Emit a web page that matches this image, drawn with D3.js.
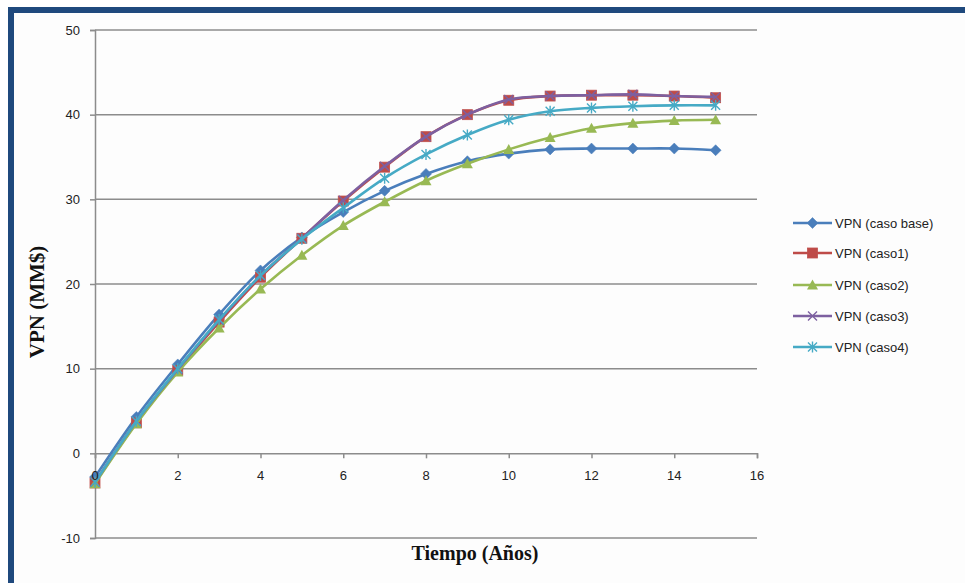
<!DOCTYPE html>
<html>
<head>
<meta charset="utf-8">
<script src="https://cdn.jsdelivr.net/npm/d3@7"></script>
<style>
  html, body { margin: 0; padding: 0; background: #fff; }
  svg { display: block; }
</style>
</head>
<body>
<svg id="chart" width="965" height="583"></svg>
<script>
// Years on the horizontal axis
const years = [0, 1, 2, 3, 4, 5, 6, 7, 8, 9, 10, 11, 12, 13, 14, 15];

// VPN (MM$) for each scenario
const casoBase = [-2.8, 4.3, 10.5, 16.4, 21.6, 25.5, 28.5, 31.0, 33.0, 34.5, 35.4, 35.9, 36.0, 36.0, 36.0, 35.8];
const caso1    = [-3.5, 3.6, 9.8, 15.5, 20.8, 25.4, 29.8, 33.8, 37.4, 40.0, 41.7, 42.2, 42.3, 42.3, 42.2, 42.0];
const caso2    = [-3.6, 3.5, 9.6, 14.8, 19.4, 23.4, 26.9, 29.7, 32.2, 34.2, 35.9, 37.3, 38.4, 39.0, 39.3, 39.4];
const caso3    = [-3.4, 3.8, 9.9, 15.7, 21.0, 25.4, 29.9, 33.9, 37.4, 40.0, 41.8, 42.2, 42.3, 42.4, 42.2, 42.1];
const caso4    = [-3.4, 3.8, 10.0, 15.8, 21.0, 25.3, 29.0, 32.5, 35.3, 37.6, 39.4, 40.4, 40.8, 41.0, 41.1, 41.1];

const seriesNames = ["VPN (caso base)", "VPN (caso1)", "VPN (caso2)", "VPN (caso3)", "VPN (caso4)"];
const seriesValues = [casoBase, caso1, caso2, caso3, caso4];
const seriesColors = ["#4A7EBB", "#BE4B48", "#98B954", "#7D60A0", "#46AAC5"];
const seriesMarkers = ["diamond", "square", "triangle", "cross", "star"];

const xTicks = [0, 2, 4, 6, 8, 10, 12, 14, 16];
const yTicks = [-10, 0, 10, 20, 30, 40, 50];

const svg = d3.select("#chart");

// Frame
svg.append("rect")
  .attr("x", 11).attr("y", 10)
  .attr("width", 970).attr("height", 590)
  .attr("fill", "#fdfdfd")
  .attr("stroke", "#1F497D").attr("stroke-width", 6);

const plot = { left: 95, right: 757, top: 30, bottom: 538 };

const x = d3.scaleLinear().domain([0, 16]).range([plot.left, plot.right]);
const y = d3.scaleLinear().domain([-10, 50]).range([plot.bottom, plot.top]);

const tickFont = "'Liberation Sans', Arial, sans-serif";
const plainInt = d => String(d);
const gridColor = "#8c8c8c";

// Horizontal gridlines
svg.append("g").selectAll("line")
  .data(yTicks.filter(v => v !== 0))
  .join("line")
  .attr("x1", plot.left).attr("x2", plot.right)
  .attr("y1", d => y(d)).attr("y2", d => y(d))
  .attr("stroke", gridColor).attr("stroke-width", 1.5);

// Y axis
const yAxis = d3.axisLeft(y).tickValues(yTicks).tickSize(5).tickPadding(10)
  .tickFormat(plainInt);
const gy = svg.append("g").attr("transform", `translate(${plot.left},0)`).call(yAxis);
gy.select(".domain").attr("stroke", gridColor).attr("stroke-width", 1.5);
gy.selectAll(".tick line").attr("stroke", gridColor).attr("stroke-width", 1.5);
gy.selectAll(".tick text").attr("font-family", tickFont).attr("font-size", 13).attr("fill", "#222");

// X axis line along zero (labels added after the series)
const xAxis = d3.axisBottom(x).tickValues(xTicks).tickSize(5).tickPadding(12)
  .tickFormat(plainInt);
const gx = svg.append("g").attr("transform", `translate(0,${y(0)})`).call(xAxis);
gx.select(".domain").attr("stroke", gridColor).attr("stroke-width", 1.5);
gx.selectAll(".tick line").attr("stroke", gridColor).attr("stroke-width", 1.5);
gx.selectAll(".tick text").remove();

// Axis titles
svg.append("text")
  .attr("x", 475).attr("y", 560)
  .attr("text-anchor", "middle")
  .attr("font-family", "'Liberation Serif', 'Times New Roman', serif")
  .attr("font-weight", "bold").attr("font-size", 20)
  .attr("fill", "#111")
  .text("Tiempo (Años)");

svg.append("text")
  .attr("transform", "translate(44,302) rotate(-90)")
  .attr("text-anchor", "middle")
  .attr("font-family", "'Liberation Serif', 'Times New Roman', serif")
  .attr("font-weight", "bold").attr("font-size", 21)
  .attr("fill", "#111")
  .text("VPN (MM$)");

// Marker drawing
function drawMarker(sel, type, color) {
  if (type === "diamond") {
    sel.append("path").attr("d", "M0,-5.5L5.5,0L0,5.5L-5.5,0Z")
      .attr("fill", color).attr("stroke", color).attr("stroke-width", 0.5);
  } else if (type === "square") {
    sel.append("rect").attr("x", -5).attr("y", -5).attr("width", 10).attr("height", 10)
      .attr("fill", color).attr("stroke", "#c0504d").attr("stroke-width", 0.8);
  } else if (type === "triangle") {
    sel.append("path").attr("d", "M0,-5.5L5.5,4.5L-5.5,4.5Z")
      .attr("fill", color);
  } else if (type === "cross") {
    sel.append("path").attr("d", "M-4.5,-4.5L4.5,4.5M-4.5,4.5L4.5,-4.5")
      .attr("stroke", color).attr("stroke-width", 1.4).attr("fill", "none");
  } else if (type === "star") {
    sel.append("path").attr("d", "M-4.5,-4.5L4.5,4.5M-4.5,4.5L4.5,-4.5M0,-5.5L0,5.5")
      .attr("stroke", color).attr("stroke-width", 1.4).attr("fill", "none");
  }
}

const line = d3.line()
  .x((d, i) => x(years[i]))
  .y(d => y(d))
  .curve(d3.curveCatmullRom.alpha(0.5));

seriesValues.forEach((vals, s) => {
  const g = svg.append("g");
  g.append("path")
    .datum(vals)
    .attr("d", line)
    .attr("fill", "none")
    .attr("stroke", seriesColors[s])
    .attr("stroke-width", 2.6)
    .attr("stroke-linejoin", "round");
  g.selectAll("g.pt")
    .data(vals)
    .join("g")
    .attr("class", "pt")
    .attr("transform", (d, i) => `translate(${x(years[i])},${y(d)})`)
    .each(function () { drawMarker(d3.select(this), seriesMarkers[s], seriesColors[s]); });
});

// X tick labels drawn above the series
svg.append("g").selectAll("text")
  .data(xTicks)
  .join("text")
  .attr("x", d => x(d))
  .attr("y", y(0) + 17)
  .attr("dy", "0.71em")
  .attr("text-anchor", "middle")
  .attr("font-family", tickFont).attr("font-size", 13).attr("fill", "#222")
  .text(plainInt);

// Legend
const legendRows = [223, 253, 285, 316, 347];
const legend = svg.append("g");
seriesNames.forEach((name, s) => {
  const row = legend.append("g").attr("transform", `translate(793,${legendRows[s]})`);
  row.append("line").attr("x1", 0).attr("x2", 39).attr("y1", 0).attr("y2", 0)
    .attr("stroke", seriesColors[s]).attr("stroke-width", 2.6);
  const m = row.append("g").attr("transform", "translate(19.5,0)");
  drawMarker(m, seriesMarkers[s], seriesColors[s]);
  row.append("text")
    .attr("x", 42).attr("y", 0).attr("dy", "0.35em")
    .attr("font-family", tickFont).attr("font-size", 13)
    .attr("fill", "#222")
    .text(name);
});
</script>
</body>
</html>
